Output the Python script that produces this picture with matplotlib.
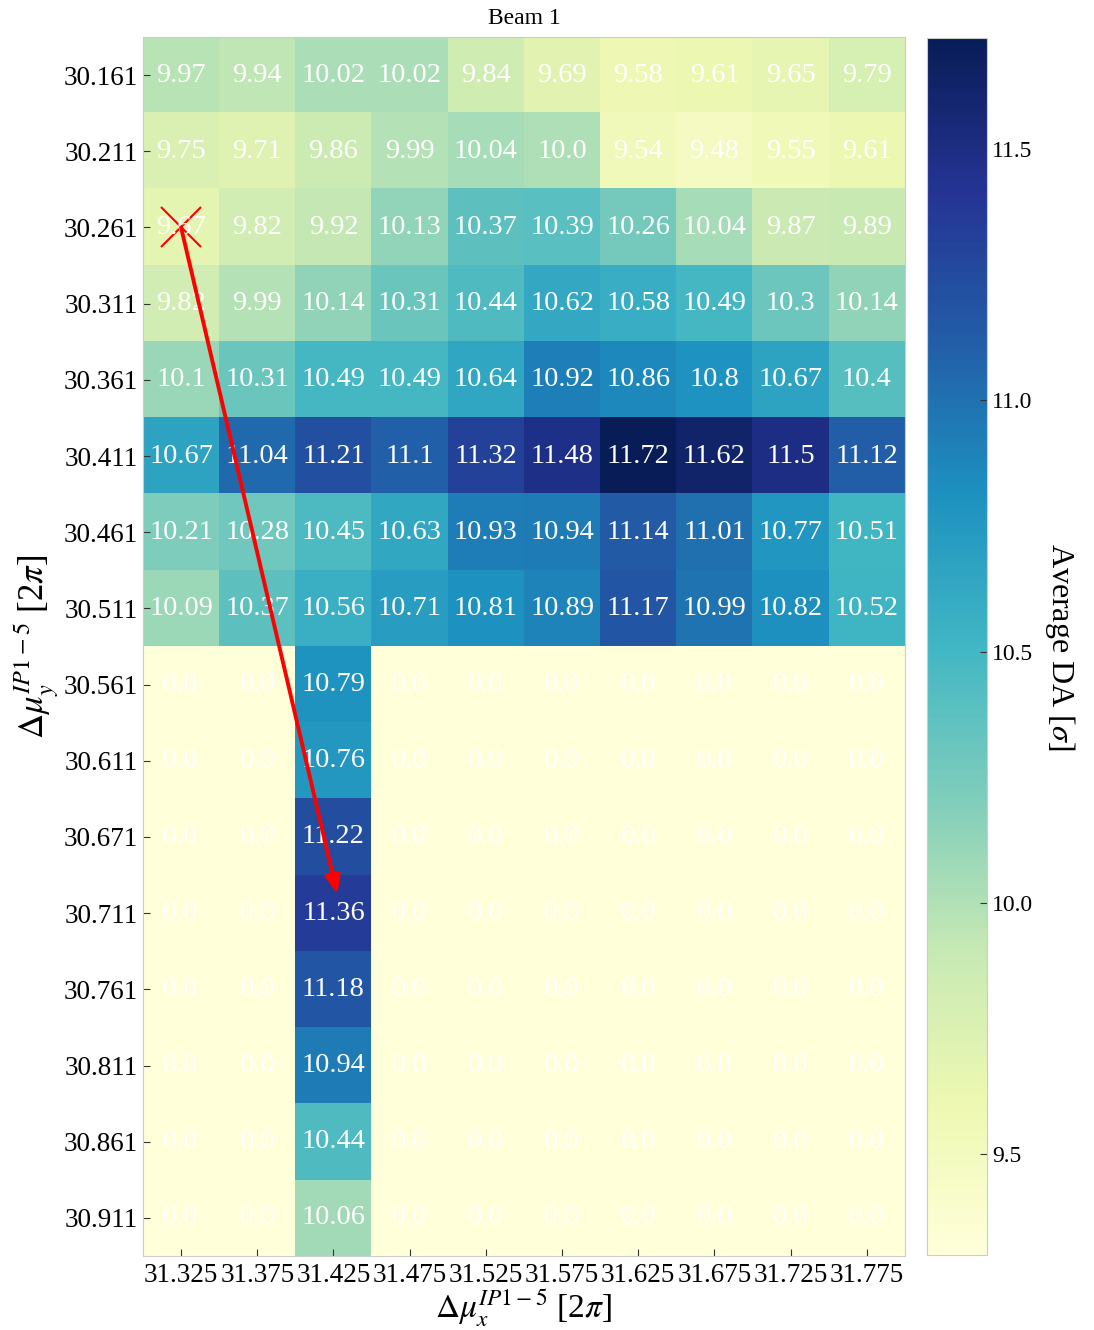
import numpy as np
import matplotlib
matplotlib.use("Agg")
import matplotlib.pyplot as plt

plt.rcParams['font.family'] = ['Liberation Serif', 'DejaVu Serif']
plt.rcParams['mathtext.fontset'] = 'stix'

qx_labels = ["31.325", "31.375", "31.425", "31.475", "31.525",
             "31.575", "31.625", "31.675", "31.725", "31.775"]
qy_labels = ["30.161", "30.211", "30.261", "30.311", "30.361", "30.411",
             "30.461", "30.511", "30.561", "30.611", "30.671", "30.711",
             "30.761", "30.811", "30.861", "30.911"]

da = [
    [9.97, 9.94, 10.02, 10.02, 9.84, 9.69, 9.58, 9.61, 9.65, 9.79],
    [9.75, 9.71, 9.86, 9.99, 10.04, 10.0, 9.54, 9.48, 9.55, 9.61],
    [9.67, 9.82, 9.92, 10.13, 10.37, 10.39, 10.26, 10.04, 9.87, 9.89],
    [9.82, 9.99, 10.14, 10.31, 10.44, 10.62, 10.58, 10.49, 10.3, 10.14],
    [10.1, 10.31, 10.49, 10.49, 10.64, 10.92, 10.86, 10.8, 10.67, 10.4],
    [10.67, 11.04, 11.21, 11.1, 11.32, 11.48, 11.72, 11.62, 11.5, 11.12],
    [10.21, 10.28, 10.45, 10.63, 10.93, 10.94, 11.14, 11.01, 10.77, 10.51],
    [10.09, 10.37, 10.56, 10.71, 10.81, 10.89, 11.17, 10.99, 10.82, 10.52],
    [0.0, 0.0, 10.79, 0.0, 0.0, 0.0, 0.0, 0.0, 0.0, 0.0],
    [0.0, 0.0, 10.76, 0.0, 0.0, 0.0, 0.0, 0.0, 0.0, 0.0],
    [0.0, 0.0, 11.22, 0.0, 0.0, 0.0, 0.0, 0.0, 0.0, 0.0],
    [0.0, 0.0, 11.36, 0.0, 0.0, 0.0, 0.0, 0.0, 0.0, 0.0],
    [0.0, 0.0, 11.18, 0.0, 0.0, 0.0, 0.0, 0.0, 0.0, 0.0],
    [0.0, 0.0, 10.94, 0.0, 0.0, 0.0, 0.0, 0.0, 0.0, 0.0],
    [0.0, 0.0, 10.44, 0.0, 0.0, 0.0, 0.0, 0.0, 0.0, 0.0],
    [0.0, 0.0, 10.06, 0.0, 0.0, 0.0, 0.0, 0.0, 0.0, 0.0],
]

# start / end of the tune change arrow
start_q = ("31.325", "30.261")
end_q = ("31.425", "30.711")

da = np.array(da)

fig = plt.figure(figsize=(10.94, 13.30), dpi=100)
ax = fig.add_axes([0.1307, 0.0556, 0.6965, 0.9166])
cax = fig.add_axes([0.8473, 0.0564, 0.0548, 0.9150])

im = ax.imshow(da, cmap="YlGnBu", vmin=9.3, vmax=11.72, aspect="auto")

for i in range(da.shape[0]):
    for j in range(da.shape[1]):
        ax.text(j, i, str(da[i, j]), ha="center", va="center",
                color="white", fontsize=20.5)

ax.set_xticks(range(len(qx_labels)))
ax.set_xticklabels(qx_labels, fontsize=19.5)
ax.set_yticks(range(len(qy_labels)))
ax.set_yticklabels(qy_labels, fontsize=19.5)
ax.tick_params(direction="in", length=5, color="#333333")
ax.tick_params(axis="x", pad=5)
for s in ax.spines.values():
    s.set_color("#cccccc")

ax.set_xlabel(r"$\Delta\mu_x^{IP1-5}$ [2$\pi$]", fontsize=24, labelpad=0)
ax.set_ylabel(r"$\Delta\mu_y^{IP1-5}$ [2$\pi$]", fontsize=25, labelpad=2)
ax.set_title("Beam 1", fontsize=17, pad=9)

x0 = qx_labels.index(start_q[0])
y0 = qy_labels.index(start_q[1])
x1 = qx_labels.index(end_q[0])
y1 = qy_labels.index(end_q[1])
ax.plot(x0, y0, marker="x", color="red", markersize=29, mew=1.5)
ax.annotate("", xy=(x1 + 0.05, y1 - 0.25), xytext=(x0, y0),
            arrowprops=dict(arrowstyle="-|>,head_length=1.1,head_width=0.45",
                            color="red", lw=2.8, shrinkA=0, shrinkB=0))

cb = fig.colorbar(im, cax=cax)
cb.outline.set_edgecolor("#cccccc")
cb.set_ticks([9.5, 10.0, 10.5, 11.0, 11.5])
cb.ax.tick_params(direction="in", length=5, labelsize=17, color="#333333")
cb.set_label(r"Average DA [$\sigma$]", fontsize=23, rotation=270, labelpad=32)

fig.savefig("out.png", dpi=100)
